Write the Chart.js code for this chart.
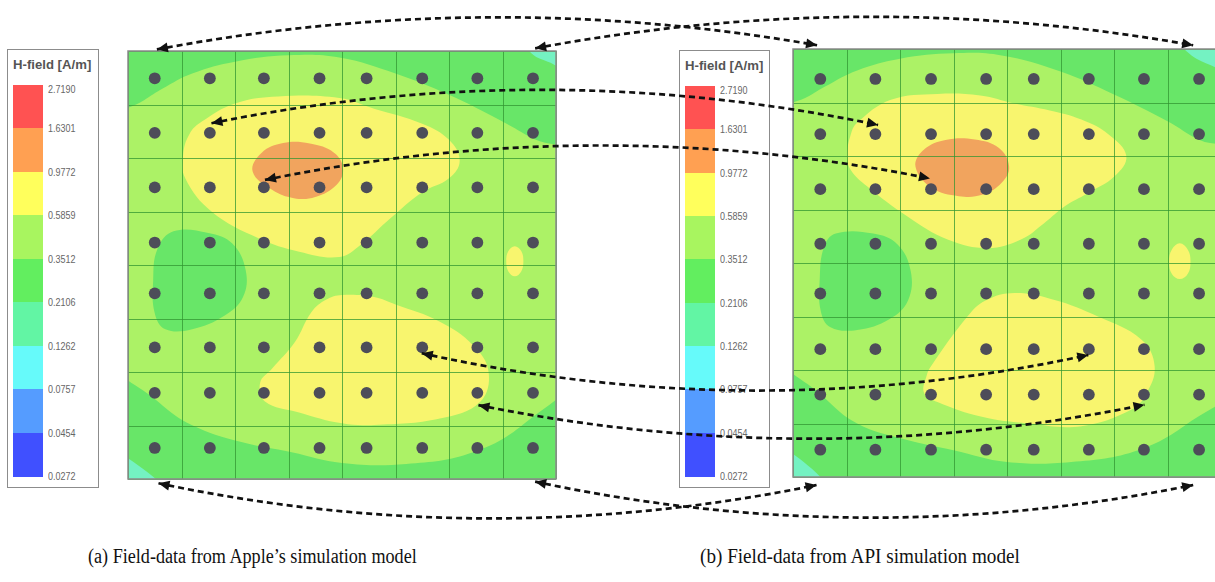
<!DOCTYPE html>
<html>
<head>
<meta charset="utf-8">
<script src="https://cdn.jsdelivr.net/npm/chart.js@4.4.0/dist/chart.umd.min.js"></script>
<style>
body { margin:0; width:1215px; height:582px; background:#fff; overflow:hidden; position:relative; font-family:"Liberation Sans", Arial, sans-serif; }
.panel { position:absolute; }
.legend { position:absolute; border:1.5px solid #8c8c8c; background:#fff; box-sizing:border-box; }
.legend .title { position:absolute; top:8px; font-weight:bold; font-size:13px; line-height:14px; color:#555; white-space:nowrap; transform-origin:0 0; }
.legend .lab { position:absolute; left:40px; font-size:11.5px; color:#666; line-height:12px; transform:scaleX(0.78); transform-origin:0 0; }
.caption { position:absolute; font-family:"Liberation Serif", "Times New Roman", serif; font-size:20px; line-height:20px; color:#111; white-space:nowrap; transform-origin:0 0; }
#links { position:absolute; left:0; top:0; pointer-events:none; }
</style>
</head>
<body>
<div class="panel" style="left:127px;top:50px"><canvas id="apple" width="430" height="430"></canvas></div>
<div class="panel" style="left:792px;top:48px"><canvas id="api" width="430" height="430"></canvas></div>
<div class="caption" id="capA">(a) Field-data from Apple’s simulation model</div>
<div class="caption" id="capB">(b) Field-data from API simulation model</div>
<canvas id="links" width="1215" height="582"></canvas>
<script>
// legend
var legendTitle = 'H-field [A/m]';
var levels = ['2.7190', '1.6301', '0.9772', '0.5859', '0.3512', '0.2106', '0.1262', '0.0757', '0.0454', '0.0272'];
var levelColors = ['#ff5252', '#ffa052', '#ffff5c', '#a8f55f', '#62ee5f', '#62f5a4', '#66fafa', '#559cff', '#4050ff'];

// measurement points (cell units, 8x8 grid, y counted from the top)
var appleCols = [0.50, 1.53, 2.54, 3.58, 4.46, 5.50, 6.53, 7.57];
var appleRows = [0.51, 1.53, 2.55, 3.58, 4.53, 5.54, 6.39, 7.42];
var apiCols = [0.51, 1.54, 2.58, 3.61, 4.50, 5.53, 6.56, 7.59];
var apiRows = [0.56, 1.59, 2.62, 3.64, 4.57, 5.61, 6.46, 7.49];

// contour outlines
var appleMid = [[-0.4, 1.4], [0.3, 0.92], [0.65, 0.7], [1.2, 0.42], [2.0, 0.2], [3.0, 0.08], [3.95, 0.12], [5.0, 0.42], [6.0, 0.82], [7.0, 1.32], [7.6, 1.65], [8.4, 2.0], [8.4, 5.9], [7.45, 6.93], [6.45, 7.5], [5.2, 7.72], [4.0, 7.7], [3.06, 7.5], [2.12, 7.31], [1.19, 6.99], [0.57, 6.56], [-0.4, 5.6]];
var appleLow = [[0.85, 3.37], [1.5, 3.4], [1.95, 3.6], [2.2, 4.1], [2.15, 4.6], [1.8, 4.95], [1.2, 5.2], [0.7, 5.2], [0.5, 4.9], [0.47, 4.3], [0.55, 3.7]];
var appleCornerA = [[7.35, -0.3], [8.4, -0.3], [8.4, 0.45], [7.9, 0.22], [7.55, 0.05]];
var appleCornerB = [[-0.4, 7.5], [0.2, 7.75], [0.7, 8.3], [-0.4, 8.4]];
var appleHighA = [[1.03, 1.94], [1.15, 1.55], [1.38, 1.32], [2.0, 0.98], [2.81, 0.85], [3.95, 0.88], [4.6, 1.08], [5.5, 1.36], [6.0, 1.66], [6.2, 2.05], [6.0, 2.38], [5.5, 2.64], [4.9, 3.13], [4.35, 3.62], [3.95, 3.85], [3.2, 3.75], [2.44, 3.5], [1.56, 3.0], [1.07, 2.38]];
var appleHighB = [[4.0, 4.56], [4.6, 4.6], [5.0, 4.74], [5.83, 5.06], [6.45, 5.5], [6.74, 6.0], [6.58, 6.56], [5.83, 6.87], [4.6, 6.99], [4.0, 6.96], [3.18, 6.75], [2.56, 6.55], [2.47, 6.2], [2.69, 5.94], [3.12, 5.44], [3.43, 4.88], [3.7, 4.65]];
var appleHighC = [[7.23, 3.65], [7.35, 3.74], [7.39, 3.93], [7.35, 4.12], [7.23, 4.21], [7.11, 4.12], [7.07, 3.93], [7.11, 3.74]];
var applePeak = [[2.33, 2.25], [2.5, 1.9], [2.9, 1.72], [3.4, 1.73], [3.85, 1.9], [4.02, 2.2], [3.9, 2.5], [3.5, 2.73], [3.1, 2.75], [2.7, 2.6]];

var apiMid = [[-0.4, 1.3], [0.3, 0.88], [0.6, 0.7], [1.2, 0.4], [2.0, 0.18], [3.0, 0.08], [3.9, 0.12], [5.0, 0.42], [6.0, 0.85], [7.0, 1.35], [7.6, 1.7], [8.4, 2.0], [8.4, 6.1], [7.45, 6.95], [6.45, 7.5], [5.2, 7.72], [4.0, 7.72], [3.0, 7.5], [2.1, 7.3], [1.2, 7.0], [0.57, 6.5], [-0.4, 5.5]];
var apiLow = [[0.8, 3.45], [1.5, 3.45], [1.95, 3.65], [2.2, 4.15], [2.15, 4.7], [1.8, 5.05], [1.2, 5.25], [0.7, 5.2], [0.52, 4.9], [0.5, 4.3], [0.58, 3.7]];
var apiCornerA = [[7.1, -0.3], [8.4, -0.3], [8.4, 0.5], [7.8, 0.3], [7.4, 0.08]];
var apiCornerB = [[-0.4, 7.45], [0.2, 7.72], [0.65, 8.3], [-0.4, 8.4]];
var apiHighA = [[1.01, 2.0], [1.08, 1.6], [1.2, 1.38], [1.83, 0.95], [2.7, 0.84], [3.5, 0.87], [4.14, 1.02], [4.8, 1.15], [5.39, 1.32], [5.9, 1.6], [6.23, 2.0], [6.01, 2.38], [5.5, 2.7], [5.08, 2.94], [4.7, 3.25], [4.26, 3.56], [3.64, 3.72], [2.89, 3.56], [2.14, 3.13], [1.39, 2.57], [1.08, 2.26]];
var apiHighB = [[4.14, 4.56], [4.89, 4.69], [5.7, 5.0], [6.51, 5.43], [6.76, 5.93], [6.6, 6.45], [6.33, 6.74], [5.39, 7.05], [4.4, 7.0], [3.51, 6.87], [2.7, 6.6], [2.45, 6.43], [2.5, 6.1], [2.58, 5.93], [3.26, 5.0], [3.6, 4.7]];
var apiHighC = [[7.23, 3.63], [7.38, 3.75], [7.43, 3.97], [7.38, 4.2], [7.23, 4.3], [7.08, 4.2], [7.03, 3.97], [7.08, 3.75]];
var apiPeak = [[2.29, 2.2], [2.45, 1.88], [2.85, 1.7], [3.4, 1.69], [3.85, 1.85], [4.04, 2.2], [3.9, 2.5], [3.55, 2.72], [3.1, 2.75], [2.6, 2.6]];

// matching points: apple x, apple y, api x, api y, bend (cells)
var links = [
    [0.54, -0.03, 0.45, -0.07, -0.56],
    [7.61, -0.05, 7.48, -0.07, -0.56],
    [1.56, 1.35, 1.59, 1.42, -0.64],
    [2.56, 2.41, 2.56, 2.42, -0.63],
    [5.49, 5.65, 5.52, 5.72, 0.68],
    [6.55, 6.62, 6.57, 6.65, 0.63],
    [0.57, 8.08, 0.44, 8.15, 0.64],
    [7.61, 8.05, 7.48, 8.15, 0.64]
];

var outerGreen = '#68e668';
var midGreen = '#acf266';
var yellow = '#f8f56e';
var orange = '#f1a45e';
var cyan = '#74f2c2';

function toXY(pts) {
    // wrap round so the closed outline stays smooth
    var p = pts.concat([pts[0], pts[1], pts[2]]);
    return p.map(function (q) { return { x: q[0], y: q[1] }; });
}

function region(pts, color, order) {
    return {
        type: 'line',
        data: toXY(pts),
        showLine: true,
        fill: 'shape',
        backgroundColor: color,
        borderColor: 'rgba(0,0,0,0)',
        borderWidth: 0,
        pointRadius: 0,
        tension: 0.4,
        order: order
    };
}

function dots(cols, rows) {
    var out = [];
    rows.forEach(function (y) {
        cols.forEach(function (x) { out.push({ x: x, y: y }); });
    });
    return out;
}

var fieldFrame = {
    id: 'fieldFrame',
    beforeDraw: function (chart) {
        var a = chart.chartArea, ctx = chart.ctx;
        ctx.save();
        ctx.fillStyle = outerGreen;
        ctx.fillRect(a.left, a.top, a.width, a.height);
        ctx.restore();
    },
    beforeDatasetDraw: function (chart, args) {
        if (args.index !== 0) return;
        // grid lines, under the measurement dots
        var a = chart.chartArea, ctx = chart.ctx;
        ctx.save();
        ctx.strokeStyle = 'rgba(50,150,50,0.75)';
        ctx.lineWidth = 1;
        ctx.beginPath();
        chart.scales.x.ticks.forEach(function (t) {
            var px = Math.round(chart.scales.x.getPixelForValue(t.value)) + 0.5;
            ctx.moveTo(px, a.top);
            ctx.lineTo(px, a.bottom);
        });
        chart.scales.y.ticks.forEach(function (t) {
            var py = Math.round(chart.scales.y.getPixelForValue(t.value)) + 0.5;
            ctx.moveTo(a.left, py);
            ctx.lineTo(a.right, py);
        });
        ctx.stroke();
        ctx.restore();
    },
    afterDraw: function (chart) {
        var a = chart.chartArea, ctx = chart.ctx;
        ctx.save();
        ctx.strokeStyle = '#8a8a8a';
        ctx.lineWidth = 1.5;
        ctx.strokeRect(a.left, a.top, a.width, a.height);
        ctx.restore();
    }
};

function axis(rev) {
    return { type: 'linear', min: 0, max: 8, reverse: rev, display: false, ticks: { stepSize: 1 } };
}

function fieldChart(id, f) {
    return new Chart(document.getElementById(id), {
        type: 'scatter',
        data: {
            datasets: [
                { data: dots(f.cols, f.rows), pointRadius: 5.9, pointBackgroundColor: '#4d4d59', pointBorderWidth: 0, order: 0 },
                region(f.peak, orange, 1),
                region(f.highA, yellow, 2),
                region(f.highB, yellow, 2),
                region(f.highC, yellow, 2),
                region(f.low, outerGreen, 3),
                region(f.cornerA, cyan, 4),
                region(f.cornerB, cyan, 4),
                region(f.mid, midGreen, 5)
            ]
        },
        options: {
            responsive: false,
            animation: false,
            events: [],
            layout: { padding: 1, autoPadding: false },
            elements: { line: { capBezierPoints: false } },
            scales: { x: axis(false), y: axis(true) },
            plugins: { legend: { display: false }, tooltip: { enabled: false } }
        },
        plugins: [fieldFrame]
    });
}

var apple = fieldChart('apple', { cols: appleCols, rows: appleRows, mid: appleMid, low: appleLow, cornerA: appleCornerA, cornerB: appleCornerB, highA: appleHighA, highB: appleHighB, highC: appleHighC, peak: applePeak });
var api = fieldChart('api', { cols: apiCols, rows: apiRows, mid: apiMid, low: apiLow, cornerA: apiCornerA, cornerB: apiCornerB, highA: apiHighA, highB: apiHighB, highC: apiHighC, peak: apiPeak });

// squeeze text into the width it takes in the figure
function squeeze(el, width) {
    el.style.transform = 'scaleX(' + (width / el.offsetWidth) + ')';
}

// colour scale boxes
function makeLegend(x, y, w, h) {
    var box = document.createElement('div');
    box.className = 'legend';
    box.style.cssText = 'left:' + x + 'px;top:' + y + 'px;width:' + w + 'px;height:' + h + 'px';
    document.body.insertBefore(box, document.getElementById('links'));
    var t = document.createElement('div');
    t.className = 'title';
    t.textContent = legendTitle;
    t.style.left = '5px';
    box.appendChild(t);
    squeeze(t, 78);
    var barTop = 35, barH = h - barTop - 13;
    var band = barH / levelColors.length;
    levelColors.forEach(function (c, i) {
        var d = document.createElement('div');
        d.style.cssText = 'position:absolute;left:5px;width:30px;top:' + (barTop + i * band) + 'px;height:' + (band + 0.6) + 'px;background:' + c;
        box.appendChild(d);
    });
    levels.forEach(function (s, i) {
        var l = document.createElement('div');
        l.className = 'lab';
        var yy = barTop + i * band - 6 + (i === 0 ? 4 : 0);
        l.style.top = yy + 'px';
        l.textContent = s;
        box.appendChild(l);
    });
}
makeLegend(7, 49, 92, 439);
makeLegend(679, 50, 91, 438);

// captions
function place(id, left, top, width) {
    var el = document.getElementById(id);
    el.style.left = left + 'px';
    el.style.top = top + 'px';
    squeeze(el, width);
}
place('capA', 88, 546, 329);
place('capB', 700, 546, 320);

// dashed double arrows linking matching points
function pagePt(chart, canvasId, x, y) {
    var r = document.getElementById(canvasId).getBoundingClientRect();
    return { x: r.left + chart.scales.x.getPixelForValue(x), y: r.top + chart.scales.y.getPixelForValue(y) };
}

function head(ctx, tip, from) {
    var a = Math.atan2(tip.y - from.y, tip.x - from.x);
    var len = 11, hw = 5;
    ctx.beginPath();
    ctx.moveTo(tip.x, tip.y);
    ctx.lineTo(tip.x - len * Math.cos(a) + hw * Math.sin(a), tip.y - len * Math.sin(a) - hw * Math.cos(a));
    ctx.lineTo(tip.x - len * Math.cos(a) - hw * Math.sin(a), tip.y - len * Math.sin(a) + hw * Math.cos(a));
    ctx.closePath();
    ctx.fill();
}

var lc = document.getElementById('links').getContext('2d');
var cell = apple.scales.y.getPixelForValue(1) - apple.scales.y.getPixelForValue(0);
links.forEach(function (k) {
    var p0 = pagePt(apple, 'apple', k[0], k[1]);
    var p2 = pagePt(api, 'api', k[2], k[3]);
    var c = { x: (p0.x + p2.x) / 2, y: (p0.y + p2.y) / 2 + 2 * k[4] * cell };
    lc.save();
    lc.strokeStyle = '#111';
    lc.fillStyle = '#111';
    lc.lineWidth = 2.7;
    lc.setLineDash([6, 4]);
    lc.beginPath();
    lc.moveTo(p0.x, p0.y);
    lc.quadraticCurveTo(c.x, c.y, p2.x, p2.y);
    lc.stroke();
    lc.setLineDash([]);
    head(lc, p0, c);
    head(lc, p2, c);
    lc.restore();
});
</script>
</body>
</html>
